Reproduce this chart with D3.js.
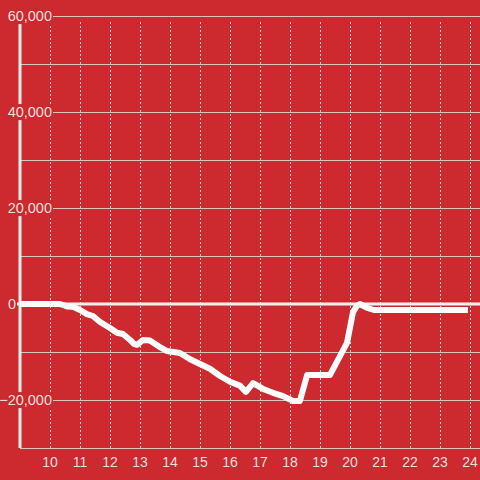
<!DOCTYPE html>
<html>
<head>
<meta charset="utf-8">
<script src="https://cdn.jsdelivr.net/npm/d3@7"></script>
<style>
  body { margin: 0; background: #cc2a2f; }
  svg { display: block; }
</style>
</head>
<body>
<div id="chart"></div>
<script>
var hours = [9, 10.33, 10.57, 10.77, 11.0, 11.23, 11.43, 11.67, 12.0, 12.23, 12.43, 12.67, 12.8, 12.9,
	13.1, 13.33, 13.67, 13.9, 14.33, 14.67, 15.0, 15.33, 15.67, 16.0, 16.33, 16.53, 16.77, 17.1,
	17.43, 17.77, 18.1, 18.33, 18.57, 18.9, 19.33, 19.9, 20.1, 20.23, 20.33, 20.57, 20.8, 23.93];
var values = [0, 0, -500, -560, -1250, -2100, -2500, -3750, -5000, -6000, -6250, -7500, -8300, -8500,
	-7500, -7600, -9000, -9800, -10200, -11500, -12500, -13500, -15000, -16200, -17000, -18300, -16500, -17700,
	-18500, -19200, -20200, -20200, -14800, -14800, -14800, -8100, -1700, -400, 0, -800, -1250, -1250];
var yTicks = [-30000, -20000, -10000, 0, 10000, 20000, 30000, 40000, 50000, 60000];
var yLabels = [-20000, 0, 20000, 40000, 60000];
var xTicks = [10, 11, 12, 13, 14, 15, 16, 17, 18, 19, 20, 21, 22, 23, 24];

var width = 480, height = 480;
var bg = "#cc2a2f";
var svg = d3.select("#chart").append("svg")
	.attr("width", width)
	.attr("height", height);

var x = d3.scaleLinear().domain([9, 24.333]).range([20, 480]);
var y = d3.scaleLinear().domain([-30000, 60000]).range([448, 16]);

// vertical dotted grid
svg.append("g").selectAll("line")
	.data(xTicks)
	.enter()
	.append("line")
	.attr("x1", function(d) { return Math.round(x(d)) + 0.5; })
	.attr("x2", function(d) { return Math.round(x(d)) + 0.5; })
	.attr("y1", 22)
	.attr("y2", 448)
	.attr("stroke", "#f2d6d6")
	.attr("stroke-width", 1)
	.attr("stroke-dasharray", "2,2");

// horizontal grid
svg.append("g").selectAll("line")
	.data(yTicks)
	.enter()
	.append("line")
	.attr("x1", 20)
	.attr("x2", width)
	.attr("y1", function(d) { return Math.round(y(d)) + 0.5; })
	.attr("y2", function(d) { return Math.round(y(d)) + 0.5; })
	.attr("stroke", "#d9c4c4")
	.attr("stroke-width", 1);

// y axis line
svg.append("line")
	.attr("x1", 20).attr("x2", 20)
	.attr("y1", 24).attr("y2", 448)
	.attr("stroke", "#f3eeee")
	.attr("stroke-width", 3);

// zero line
svg.append("line")
	.attr("x1", 17).attr("x2", width)
	.attr("y1", y(0)).attr("y2", y(0))
	.attr("stroke", "#f5f0f0")
	.attr("stroke-width", 3);

// data line
var line = d3.line()
	.x(function(d, i) { return x(hours[i]); })
	.y(function(d) { return y(d); });
svg.append("path")
	.datum(values)
	.attr("d", line)
	.attr("fill", "none")
	.attr("stroke", "#ffffff")
	.attr("stroke-width", 6)
	.attr("stroke-linejoin", "round");

// y labels with background boxes (zero label sits left of the axis)
var yl = svg.append("g").selectAll("g")
	.data(yLabels)
	.enter()
	.append("g")
	.attr("transform", function(d) { return "translate(" + (d === 0 ? 16 : 52) + "," + y(d) + ")"; });
yl.append("text")
	.attr("text-anchor", "end")
	.attr("dy", "0.35em")
	.attr("font-family", "Liberation Sans, Arial, sans-serif")
	.attr("font-size", "14.5px")
	.attr("fill", "#f3dede")
	.text(function(d) { return d3.format(",")(d); });
yl.each(function(d) {
	if (d === 0) return;
	var g = d3.select(this);
	var b = g.select("text").node().getBBox();
	g.insert("rect", "text")
		.attr("x", b.x - 1)
		.attr("y", b.y)
		.attr("width", b.width + 2)
		.attr("height", b.height)
		.attr("fill", bg);
});

// x labels
svg.append("g").selectAll("text")
	.data(xTicks)
	.enter()
	.append("text")
	.attr("x", function(d) { return x(d); })
	.attr("y", 462)
	.attr("dy", "0.35em")
	.attr("text-anchor", "middle")
	.attr("font-family", "Liberation Sans, Arial, sans-serif")
	.attr("font-size", "14px")
	.attr("fill", "#f3dede")
	.text(function(d) { return d; });
</script>
</body>
</html>
